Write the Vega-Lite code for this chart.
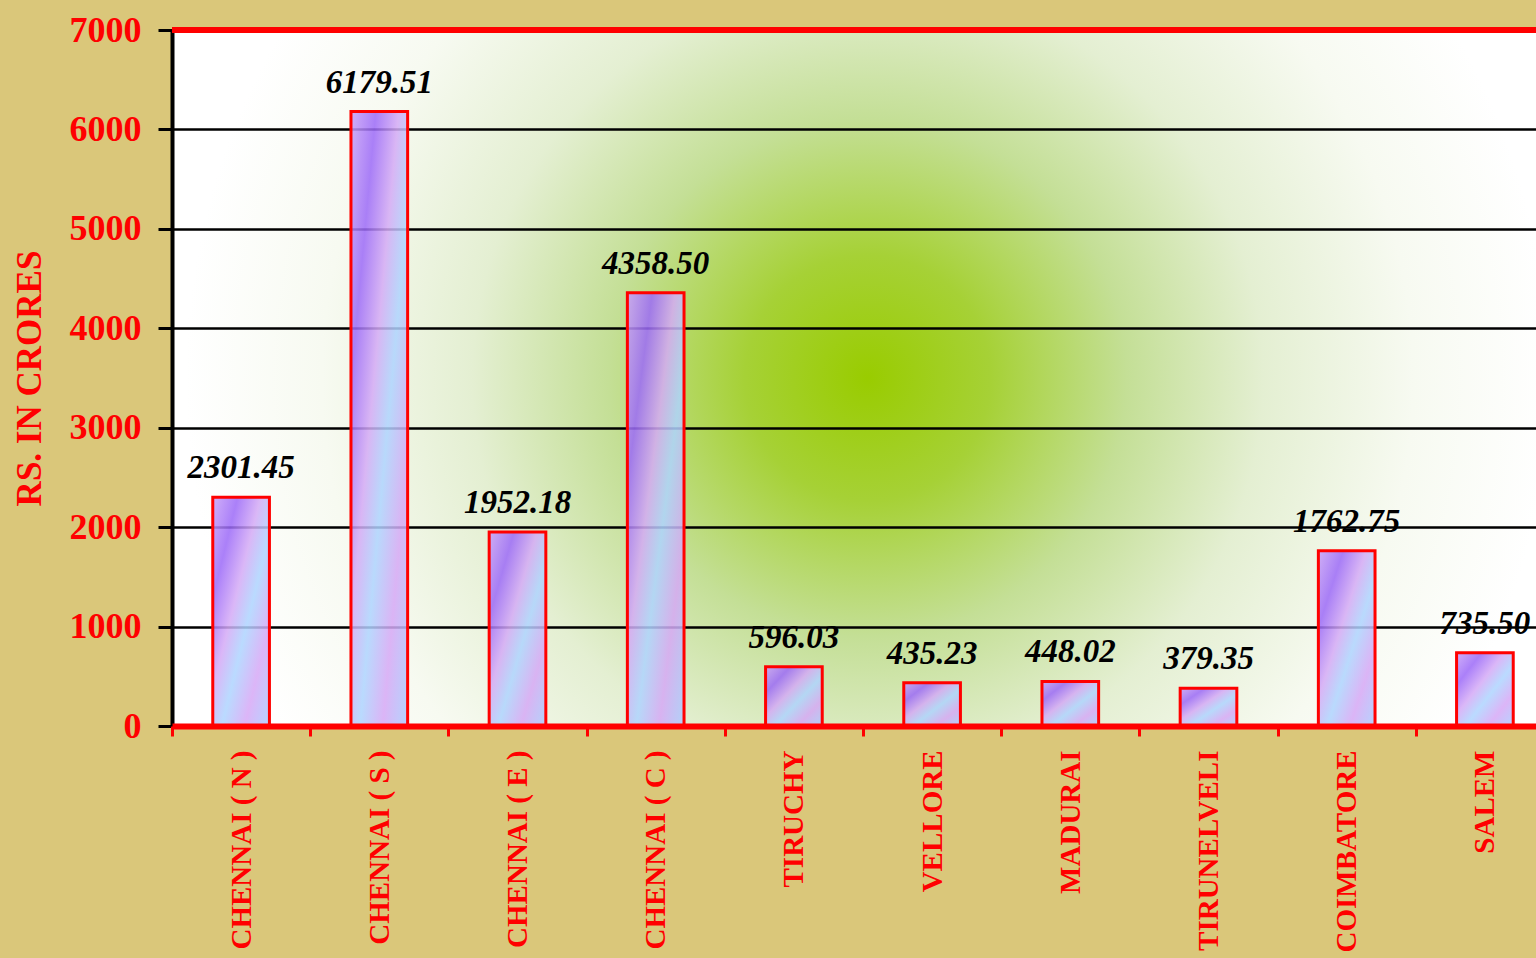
{
  "$schema": "https://vega.github.io/schema/vega-lite/v6.json",
  "width": 1364,
  "height": 696,
  "autosize": "none",
  "padding": {"left": 172, "top": 30, "right": 0, "bottom": 232},
  "background": "#DAC77A",
  "config": {
    "view": {
      "stroke": null,
      "fill": {
        "gradient": "radial",
        "x1": 0.51, "y1": 0.5, "r1": 0,
        "x2": 0.51, "y2": 0.5, "r2": 0.5,
        "stops": [
          {"offset": 0, "color": "#99CC00"},
          {"offset": 0.18, "color": "#A6D136"},
          {"offset": 0.38, "color": "#C4DF96"},
          {"offset": 0.58, "color": "#E4EFD2"},
          {"offset": 0.8, "color": "#F7FAF1"},
          {"offset": 1, "color": "#FFFFFF"}
        ]
      }
    }
  },
  "data": {
    "values": [
      {"region": "CHENNAI ( N )", "value": 2301.45},
      {"region": "CHENNAI ( S )", "value": 6179.51},
      {"region": "CHENNAI ( E )", "value": 1952.18},
      {"region": "CHENNAI ( C )", "value": 4358.50},
      {"region": "TIRUCHY", "value": 596.03},
      {"region": "VELLORE", "value": 435.23},
      {"region": "MADURAI", "value": 448.02},
      {"region": "TIRUNELVELI", "value": 379.35},
      {"region": "COIMBATORE", "value": 1762.75},
      {"region": "SALEM", "value": 735.50}
    ]
  },
  "encoding": {
    "x": {
      "field": "region", "type": "nominal", "sort": null,
      "scale": {"range": [0, 1382], "paddingInner": 0, "paddingOuter": 0},
      "axis": {
        "title": null, "labelAngle": -90, "labelAlign": "right", "labelBaseline": "middle",
        "labelColor": "#FF0000", "labelFont": "Liberation Serif", "labelFontSize": 29,
        "labelFontWeight": "bold", "labelPadding": 14, "labelLimit": 500, "labelOverlap": false,
        "tickBand": "extent", "tickColor": "#FF0000", "tickWidth": 3, "tickSize": 10,
        "domainColor": "#FF0000", "domainWidth": 6, "grid": false, "zindex": 1
      }
    },
    "y": {
      "field": "value", "type": "quantitative",
      "scale": {"domain": [0, 7000], "nice": false},
      "axis": {
        "title": "RS. IN CRORES", "titleColor": "#FF0000", "titleFont": "Liberation Serif",
        "titleFontSize": 35, "titleFontWeight": "bold", "titlePadding": 22,
        "values": [0, 1000, 2000, 3000, 4000, 5000, 6000, 7000], "format": "d",
        "labelColor": "#FF0000", "labelFont": "Liberation Serif", "labelFontSize": 36,
        "labelFontWeight": "bold", "labelPadding": 17,
        "tickColor": "#000000", "tickWidth": 3, "tickSize": 14,
        "domainColor": "#000000", "domainWidth": 4,
        "grid": true, "gridColor": "#000000", "gridWidth": 2.5
      }
    }
  },
  "layer": [
    {
      "mark": {
        "type": "bar",
        "width": {"band": 0.41},
        "stroke": "#FF0000",
        "strokeWidth": 3,
        "fillOpacity": 0.85,
        "fill": {
          "gradient": "linear",
          "x1": 0, "y1": 0, "x2": 1, "y2": 1,
          "stops": [
            {"offset": 0, "color": "#C9A2F8"},
            {"offset": 0.22, "color": "#9C6AF8"},
            {"offset": 0.42, "color": "#D4AAF6"},
            {"offset": 0.58, "color": "#AED4FF"},
            {"offset": 0.78, "color": "#D6A8F6"},
            {"offset": 1, "color": "#A9CCFF"}
          ]
        }
      }
    },
    {
      "mark": {
        "type": "text", "baseline": "bottom", "dy": -12,
        "font": "Liberation Serif", "fontSize": 33, "fontWeight": "bold", "fontStyle": "italic",
        "color": "#000000"
      },
      "encoding": {"text": {"field": "value", "type": "quantitative", "format": ".2f"}}
    },
    {
      "mark": {"type": "rule", "color": "#FF0000", "strokeWidth": 6},
      "encoding": {"y": {"datum": 7000}, "x": null}
    }
  ]
}
